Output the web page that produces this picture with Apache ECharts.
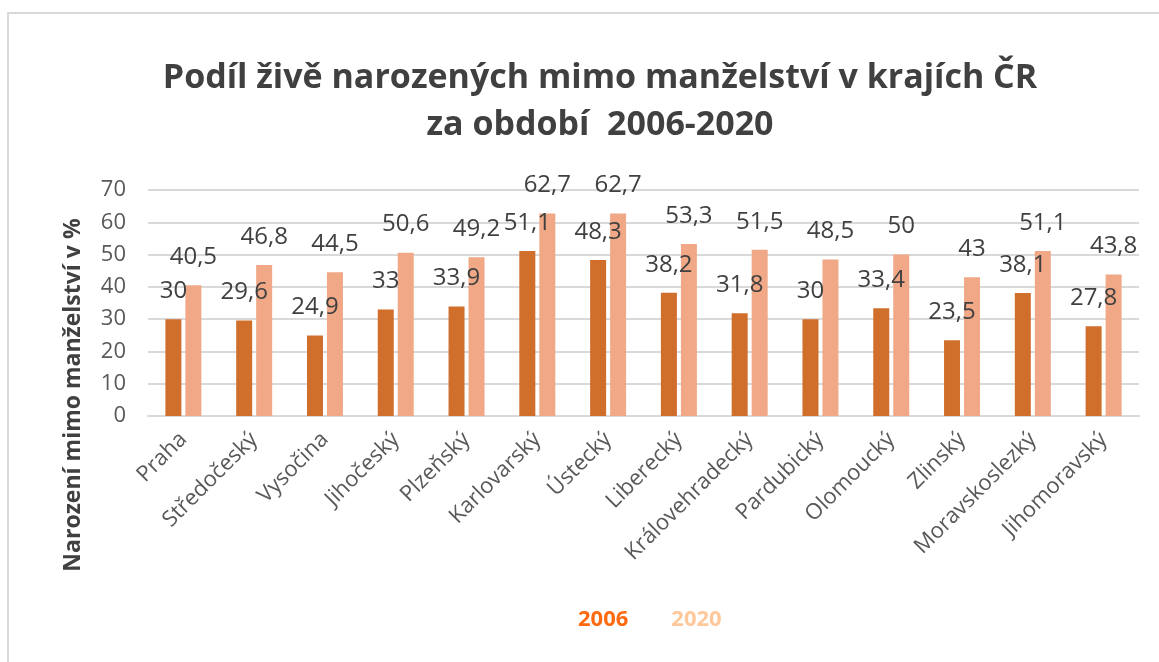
<!DOCTYPE html>
<html lang="cs" style="height: 100%">
<head>
  <meta charset="utf-8">
</head>
<body style="height: 100%; margin: 0">
  <div id="container" style="height: 100%"></div>

  <script type="text/javascript" src="https://cdn.jsdelivr.net/npm/echarts@6/dist/echarts.min.js"></script>

  <script type="text/javascript">
    var kraje = ['Praha', 'Středočeský', 'Vysočina', 'Jihočeský', 'Plzeňský', 'Karlovarský', 'Ústecký',
      'Liberecký', 'Královehradecký', 'Pardubický', 'Olomoucký', 'Zlinský', 'Moravskoslezký', 'Jihomoravský'];
    var rok2006 = [30, 29.6, 24.9, 33, 33.9, 51.1, 48.3, 38.2, 31.8, 30, 33.4, 23.5, 38.1, 27.8];
    var rok2020 = [40.5, 46.8, 44.5, 50.6, 49.2, 62.7, 62.7, 53.3, 51.5, 48.5, 50, 43, 51.1, 43.8];
    var yTicks = [0, 10, 20, 30, 40, 50, 60, 70];

    var dom = document.getElementById('container');
    var myChart = echarts.init(dom, null, {
      renderer: 'canvas',
      useDirtyRect: false
    });
    var option;

    var fmt = function (p) {
      return String(p.value).replace('.', ',');
    };
    var labelStyle = {
      show: true,
      position: 'top',
      distance: 16,
      fontFamily: 'Open Sans',
      fontSize: 24,
      color: '#404040',
      formatter: fmt
    };

    option = {
      backgroundColor: '#fff',
      animation: false,
      title: {
        text: 'Podíl živě narozených mimo manželství v krajích ČR\nza období  2006-2020',
        left: 595,
        textAlign: 'center',
        top: 50,
        textStyle: {
          fontFamily: 'Open Sans',
          fontWeight: 'bold',
          fontSize: 34,
          lineHeight: 47,
          color: '#404040'
        }
      },
      legend: {
        left: 568,
        top: 604,
        itemWidth: 0,
        itemHeight: 0,
        itemGap: 38,
        icon: 'rect',
        selectedMode: false,
        data: [
          { name: '2006', textStyle: { color: '#FF6A10' } },
          { name: '2020', textStyle: { color: '#FFC89A' } }
        ],
        textStyle: {
          fontFamily: 'Open Sans',
          fontWeight: 'bold',
          fontSize: 22
        }
      },
      grid: {
        left: 148,
        right: 20,
        top: 190,
        bottom: 246
      },
      xAxis: {
        type: 'category',
        data: kraje,
        axisLine: { lineStyle: { color: '#d9d9d9', width: 2 } },
        axisTick: { show: false },
        axisLabel: {
          rotate: 45,
          interval: 0,
          margin: 20,
          fontFamily: 'Open Sans',
          fontSize: 22,
          color: '#595959'
        }
      },
      yAxis: {
        type: 'value',
        min: yTicks[0],
        max: yTicks[yTicks.length - 1],
        interval: 10,
        axisLine: { show: false },
        axisTick: { show: false },
        splitLine: { lineStyle: { color: '#d9d9d9', width: 2 } },
        axisLabel: {
          margin: 22,
          fontFamily: 'Open Sans',
          fontSize: 22,
          color: '#595959'
        }
      },
      graphic: [
        {
          type: 'polyline',
          shape: { points: [[8, 662], [8, 13], [1159, 13]] },
          style: { stroke: '#d9d9d9', lineWidth: 2, fill: null }
        },
        {
          type: 'text',
          x: 73,
          y: 395,
          rotation: Math.PI / 2,
          style: {
            text: 'Narození mimo manželství v %',
            fontFamily: 'Open Sans',
            fontWeight: 'bold',
            fontSize: 23,
            fill: '#404040',
            align: 'center',
            verticalAlign: 'middle'
          }
        }
      ],
      series: [
        {
          name: '2006',
          type: 'bar',
          data: rok2006,
          barWidth: '22.6%',
          barGap: '25%',
          itemStyle: { color: '#D06E2C' },
          label: labelStyle
        },
        {
          name: '2020',
          type: 'bar',
          data: rok2020,
          barWidth: '22.6%',
          itemStyle: { color: '#F0A886' },
          label: labelStyle
        }
      ]
    };

    if (option && typeof option === 'object') {
      myChart.setOption(option);
    }

    window.addEventListener('resize', myChart.resize);
  </script>
</body>
</html>
